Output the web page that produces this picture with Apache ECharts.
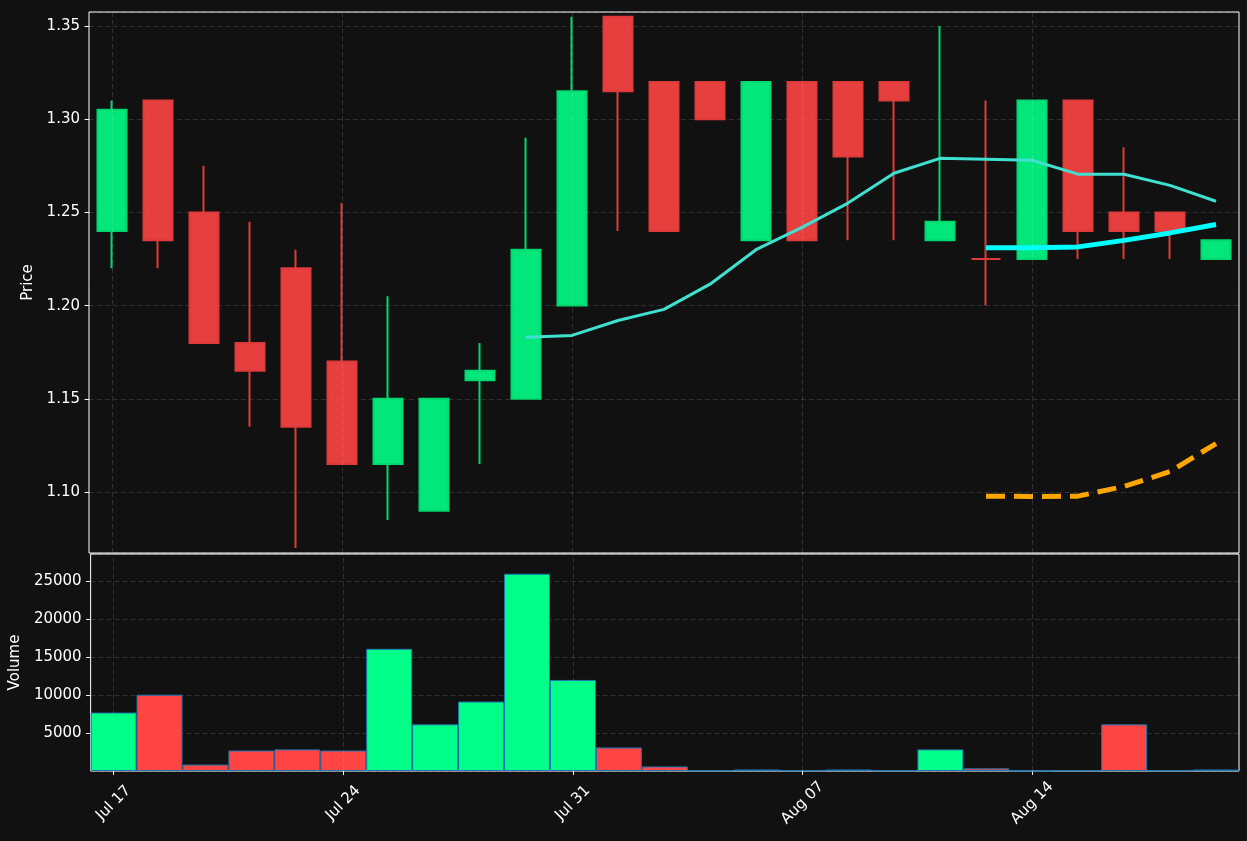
<!DOCTYPE html>
<html><head><meta charset="utf-8">
<script src="https://cdn.jsdelivr.net/npm/echarts@6/dist/echarts.min.js"></script>
<style>html,body{margin:0;padding:0;background:#111111;} #c{width:1247px;height:841px;}</style>
</head><body><div id="c"></div>
<script>
const dates = ['Jul 17','Jul 18','Jul 19','Jul 20','Jul 21','Jul 24','Jul 25','Jul 26','Jul 27','Jul 28','Jul 31','Aug 01','Aug 02','Aug 03','Aug 04','Aug 07','Aug 08','Aug 09','Aug 10','Aug 11','Aug 14','Aug 15','Aug 16','Aug 17','Aug 18'];
const opens  = [1.240,1.310,1.250,1.180,1.220,1.170,1.115,1.090,1.160,1.150,1.200,1.355,1.320,1.320,1.235,1.320,1.320,1.320,1.235,1.225,1.225,1.310,1.250,1.250,1.225];
const closes = [1.305,1.235,1.180,1.165,1.135,1.115,1.150,1.150,1.165,1.230,1.315,1.315,1.240,1.300,1.320,1.235,1.280,1.310,1.245,1.225,1.310,1.240,1.240,1.240,1.235];
const lows   = [1.220,1.220,1.180,1.135,1.070,1.115,1.085,1.090,1.115,1.150,1.200,1.240,1.240,1.300,1.235,1.235,1.235,1.235,1.235,1.200,1.225,1.225,1.225,1.225,1.225];
const highs  = [1.310,1.310,1.275,1.245,1.230,1.255,1.205,1.150,1.180,1.290,1.355,1.355,1.320,1.320,1.320,1.320,1.320,1.320,1.350,1.310,1.310,1.310,1.285,1.250,1.235];
const volumes = [7700,10050,850,2700,2850,2700,16100,6150,9150,26000,12000,3100,600,100,200,100,200,100,2850,350,30,100,6150,100,200];
const maLine = [null,null,null,null,null,null,null,null,null,1.183,1.184,1.192,1.198,1.2115,1.230,1.242,1.255,1.271,1.279,1.2785,1.278,1.2705,1.2705,1.2645,1.256];
const cyanLine = [null,null,null,null,null,null,null,null,null,null,null,null,null,null,null,null,null,null,null,1.231,1.231,1.2315,1.235,1.239,1.2435];
const orangeLine = [null,null,null,null,null,null,null,null,null,null,null,null,null,null,null,null,null,null,null,1.0978,1.0976,1.0978,1.103,1.111,1.126];
const tickLabels = ['Jul 17','Jul 24','Jul 31','Aug 07','Aug 14'];

const font = 'DejaVu Sans';
const fontSize = 15;
const textColor = '#ffffff';
const labelStyle = {color:textColor, fontFamily:font, fontSize:fontSize};
const gridLineStyle = {color:'rgba(255,255,255,0.17)', type:[5,3], width:0.8};
const emptyData = dates.map(() => null);

const chart = echarts.init(document.getElementById('c'), null, {renderer:'canvas'});
const option = {
  backgroundColor:'#111111',
  animation:false,
  textStyle:{fontFamily:font, fontSize:fontSize, color:textColor},
  grid:[
    {left:89, width:1150, top:12, height:541, show:true, borderColor:'#ffffff', borderWidth:1, backgroundColor:'transparent'},
    {left:89, width:1150, top:554, height:217, show:true, borderColor:'#ffffff', borderWidth:1, backgroundColor:'transparent'}
  ],
  xAxis:[
    {type:'category', data:dates, gridIndex:0, boundaryGap:true, axisLine:{show:false}, axisTick:{show:false}, axisLabel:{show:false}, splitLine:{show:false}},
    {type:'category', data:dates, gridIndex:1, boundaryGap:true, axisLine:{show:false},
     axisTick:{show:true, alignWithLabel:true, interval:4, length:4, lineStyle:{color:'#ffffff'}},
     axisLabel:Object.assign({interval:4, rotate:45, align:'center', verticalAlign:'middle', margin:32}, labelStyle),
     splitLine:{show:false}}
  ],
  yAxis:[
    {type:'value', gridIndex:0, min:1.0673, max:1.3575, minInterval:0.05, maxInterval:0.05,
     name:'Price', nameLocation:'middle', nameGap:50, nameTextStyle:labelStyle,
     axisLine:{show:false}, axisTick:{show:true, length:4.5, lineStyle:{color:'#ffffff'}},
     axisLabel:Object.assign({margin:9, showMinLabel:false, showMaxLabel:false, formatter:v => v.toFixed(2)}, labelStyle),
     splitLine:{show:true, lineStyle:gridLineStyle}},
    {type:'value', gridIndex:1, min:0, max:28600, interval:5000,
     name:'Volume', nameLocation:'middle', nameGap:64, nameTextStyle:labelStyle,
     axisLine:{show:false}, axisTick:{show:true, length:4.5, lineStyle:{color:'#ffffff'}},
     axisLabel:Object.assign({margin:9, showMinLabel:false, showMaxLabel:false, formatter:v => String(v)}, labelStyle),
     splitLine:{show:true, lineStyle:gridLineStyle}}
  ],
  series:[
    {type:'line', xAxisIndex:0, yAxisIndex:0, data:emptyData, z:1, symbol:'none', silent:true,
     markLine:{symbol:['none','none'], silent:true, animation:false, label:{show:false}, lineStyle:gridLineStyle,
               data:tickLabels.map(d => ({xAxis:d}))}},
    {type:'line', xAxisIndex:1, yAxisIndex:1, data:emptyData, z:1, symbol:'none', silent:true,
     markLine:{symbol:['none','none'], silent:true, animation:false, label:{show:false}, lineStyle:gridLineStyle,
               data:tickLabels.map(d => ({xAxis:d}))}},
    {type:'candlestick', xAxisIndex:0, yAxisIndex:0, z:2, barWidth:'64%',
     data:dates.map((d,i) => [opens[i], closes[i], lows[i], highs[i]]),
     itemStyle:{color:'rgba(0,255,136,0.9)', color0:'rgba(255,68,68,0.9)', borderColor:'#00d86f', borderColor0:'#dd3b3b', borderWidth:2}},
    {type:'line', xAxisIndex:0, yAxisIndex:0, z:3, data:maLine, symbol:'none', lineStyle:{color:'#40E0D0', width:3}},
    {type:'line', xAxisIndex:0, yAxisIndex:0, z:4, data:cyanLine, symbol:'none', lineStyle:{color:'#00FFFF', width:5}},
    {type:'line', xAxisIndex:0, yAxisIndex:0, z:4, data:orangeLine, symbol:'none', lineStyle:{color:'#FFA500', width:5, type:[19,9]}},
    {type:'bar', xAxisIndex:1, yAxisIndex:1, z:2, barWidth:'100%', data:volumes,
     itemStyle:{color:p => closes[p.dataIndex] > opens[p.dataIndex] ? '#00FF88' : '#FF4444', borderColor:'#1f77b4', borderWidth:1}}
  ]
};
chart.setOption(option);
</script>
</body></html>
